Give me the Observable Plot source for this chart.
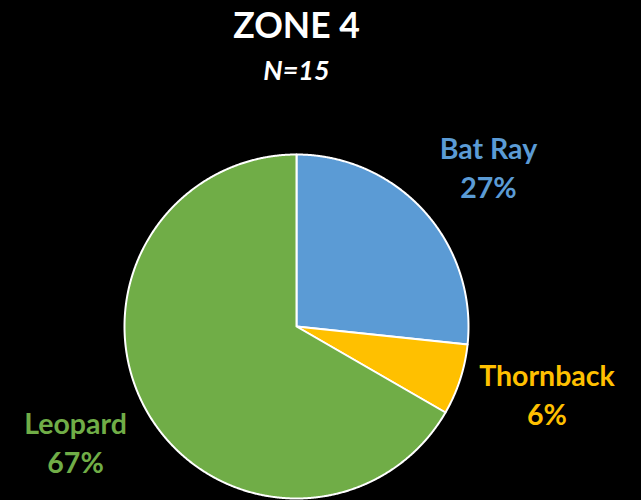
<!DOCTYPE html>
<html>
<head>
<meta charset="utf-8">
<script src="https://cdn.jsdelivr.net/npm/d3@7"></script>
<script src="https://cdn.jsdelivr.net/npm/@observablehq/plot@0.6"></script>
<style>
  html, body { margin: 0; padding: 0; background: #000; }
  #chart svg { display: block; }
</style>
</head>
<body>
<div id="chart"></div>
<script>
const title = "ZONE 4";
const subtitle = "N=15";
const categories = ["Bat Ray", "Thornback", "Leopard"];
const counts = [4, 1, 10];
const percentLabels = ["27%", "6%", "67%"];
const colors = ["#5B9BD5", "#FFC000", "#70AD47"];

// layout only: pixel nudges for the outside labels
const labelNudge = [[4, 9], [10, -12], [-2, -12]];
const PX = 172; // pixels per data unit (pie radius)

const FONT = "Lato, 'Noto Sans', sans-serif";

const arcs = d3.pie().sort(null)(counts);
const slicePts = [];
arcs.forEach((a, i) => {
  const cat = categories[i];
  slicePts.push({cat, x: 0, y: 0});
  const n = Math.max(4, Math.ceil((a.endAngle - a.startAngle) / 0.005));
  for (let k = 0; k <= n; k++) {
    const t = a.startAngle + (a.endAngle - a.startAngle) * k / n;
    slicePts.push({cat, x: Math.sin(t), y: Math.cos(t)});
  }
});

const labelR = 1.47;
const labels = arcs.map((a, i) => {
  const m = (a.startAngle + a.endAngle) / 2;
  return {cat: categories[i], text: categories[i] + "\n" + percentLabels[i],
          x: labelR * Math.sin(m) + labelNudge[i][0] / PX,
          y: labelR * Math.cos(m) - labelNudge[i][1] / PX};
});

const chart = Plot.plot({
  width: 641,
  height: 500,
  margin: 0,
  style: {background: "#000", fontFamily: FONT},
  x: {domain: [-1, 1], range: [124, 468], axis: null},
  y: {domain: [-1, 1], range: [498, 154], axis: null},
  color: {domain: categories, range: colors},
  marks: [
    Plot.line(slicePts, {x: "x", y: "y", z: "cat", fill: "cat", stroke: "white",
      strokeWidth: 2, strokeLinejoin: "round", curve: "linear-closed"}),
    Plot.text(labels, {x: "x", y: "y", text: "text", fill: "cat",
      fontSize: 28.5, fontWeight: "bold", lineHeight: 1.37, textAnchor: "middle", lineAnchor: "middle"}),
    Plot.text([title], {x: () => 0, y: () => 1.741, text: d => d, fill: "white",
      fontSize: 35.5, fontWeight: "bold", textAnchor: "middle", lineAnchor: "middle"}),
    Plot.text([subtitle], {x: () => 0, y: () => 1.483, text: d => d, fill: "white",
      fontSize: 27, fontWeight: "bold", fontStyle: "italic", textAnchor: "middle", lineAnchor: "middle"})
  ]
});
document.getElementById("chart").appendChild(chart);
</script>
</body>
</html>
